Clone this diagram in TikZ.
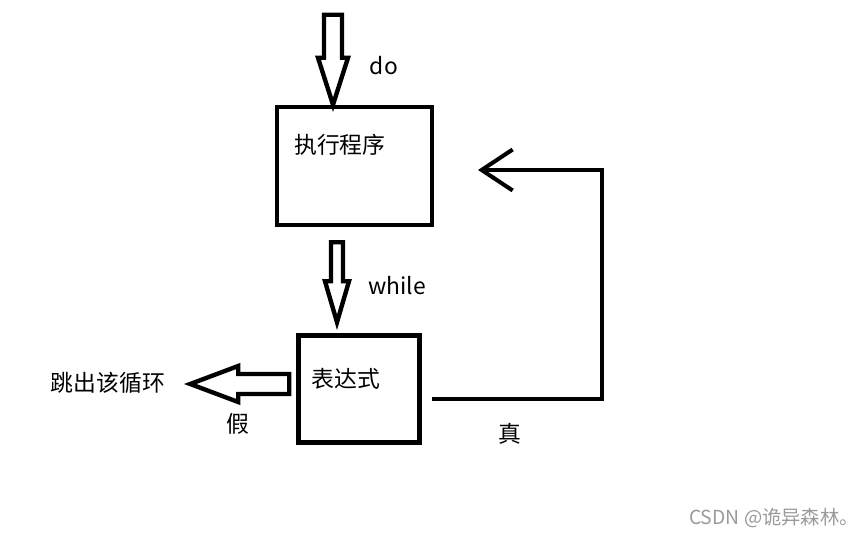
\documentclass[tikz,border=0pt]{standalone}
\usepackage{fontspec}
\setmainfont{Noto Sans CJK SC}
\usepackage{tikz}
\usetikzlibrary{
  arrows.meta,
  calc,
  positioning
}
\usepackage{xcolor}
\definecolor{markgray}{HTML}{9A9A9A}
\tikzset{
  block/.style={rectangle, draw, line width=2.6pt, inner sep=0pt},
  hollow/.style={draw, line width=2.5pt, line join=miter, fill=white},
  loopline/.style={line width=2.3pt, -{Straight Barb[length=0.62cm, width=0.82cm]}},
  txt/.style={font=\fontsize{13}{15}\selectfont, inner sep=0pt},
}

\begin{document}
\begin{tikzpicture}[x=0.02cm, y=-0.02cm]
\useasboundingbox (0,0) rectangle (867,538);

\node[block, minimum width=3.1cm, minimum height=2.36cm] (exec) at (354.5,166) {};
\node[block, minimum width=2.42cm, minimum height=2.14cm] (cond) at (359,389) {};

\node[txt] (exectext) at (340,145) {执行程序};
\node[txt] (condtext) at (346,379) {表达式};
\node[txt] (dotext) at (384,66) {do};
\node[txt] (whiletext) at (397,286) {while};
\node[txt] (exittext) at (108,383) {跳出该循环};
\node[txt] (falsetext) at (238,424) {假};
\node[txt] (truetext) at (510,434) {真};
\node[font=\fontsize{11}{13}\selectfont, text=markgray, inner sep=0pt] (mark) at (774,518) {CSDN @诡异森林。};

% hollow arrows
\draw[hollow] ($(exec.north)+(-21.5,0)$) -- ++(-15,-47) -- ++(6,0) -- ++(0,-43)
  -- ++(18,0) -- ++(0,43) -- ++(6,0) -- cycle;
\draw[hollow] ($(cond.north)+(-22,-11)$) -- ++(-12,-41) -- ++(6,0) -- ++(0,-39)
  -- ++(12,0) -- ++(0,39) -- ++(6,0) -- cycle;
\draw[hollow] ($(cond.west)+(-106,-5)$) -- ++(48,-18) -- ++(0,8) -- ++(51,0)
  -- ++(0,20) -- ++(-51,0) -- ++(0,8) -- cycle;

% loop back when true
\coordinate (back) at (478,170);
\draw[loopline] ($(cond.east)+(10,10)$) -- (602,399) -- (602,170) -- (back);

\end{tikzpicture}
\end{document}
